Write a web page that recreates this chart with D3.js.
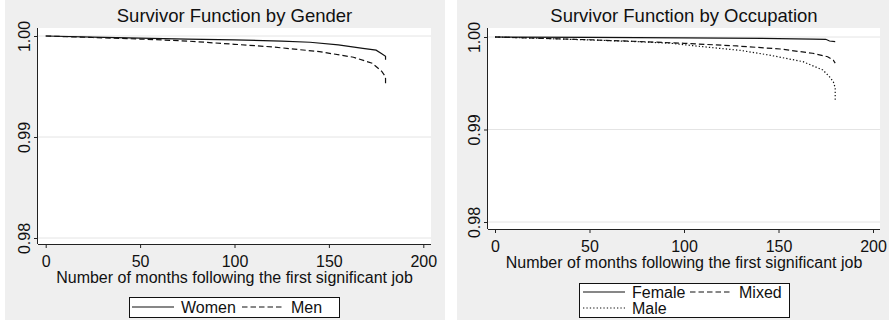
<!DOCTYPE html>
<html>
<head>
<meta charset="utf-8">
<script src="https://cdn.jsdelivr.net/npm/d3@7"></script>
<style>
  body { margin: 0; background: #ffffff; }
  svg { display: block; font-family: "Liberation Sans", Arial, sans-serif; }
</style>
</head>
<body>
<div id="chart"></div>
<script>
const FRAME_WIDTH = 889;
const FRAME_HEIGHT = 320;

// axis ticks shared by both panels
const X_TICKS = [0, 50, 100, 150, 200];
const Y_TICKS = [0.98, 0.99, 1.00];

// survivor estimates (months, survival)
const WOMEN_MONTHS = [0, 25, 50, 75, 100, 125, 140, 155, 168, 175, 178, 180, 180];
const WOMEN_SURV   = [1.0, 0.99988, 0.99978, 0.99970, 0.99962, 0.99950, 0.99938, 0.99912, 0.99878, 0.99860, 0.99825, 0.99800, 0.99765];

const MEN_MONTHS = [0, 25, 50, 75, 100, 120, 145, 163, 173, 178, 179.5, 180, 180];
const MEN_SURV   = [1.0, 0.99985, 0.99970, 0.99950, 0.99918, 0.99892, 0.99845, 0.99790, 0.99730, 0.99650, 0.99610, 0.99580, 0.99508];

const FEMALE_MONTHS = [0, 50, 100, 150, 168, 175, 177, 180];
const FEMALE_SURV   = [1.0, 0.99995, 0.99990, 0.99983, 0.99978, 0.99975, 0.99957, 0.99950];

const MIXED_MONTHS = [0, 25, 50, 75, 100, 128, 151, 168, 176, 179, 180];
const MIXED_SURV   = [1.0, 0.99985, 0.99970, 0.99952, 0.99932, 0.99903, 0.99870, 0.99824, 0.99787, 0.99750, 0.99718];

const MALE_MONTHS = [0, 25, 50, 75, 93, 110, 130, 145, 163, 173.5, 177, 179, 180, 180];
const MALE_SURV   = [1.0, 0.99985, 0.99968, 0.99950, 0.99932, 0.99895, 0.99855, 0.99805, 0.99733, 0.99643, 0.99570, 0.99517, 0.99450, 0.99322];

const GENDER_LABELS = ["Women", "Men"];
const OCCUPATION_LABELS = ["Female", "Mixed", "Male"];

const X_TITLE = "Number of months following the first significant job";

// line styles
const SOLID = null;
const DASHED = "5.5,3";
const DOTTED = "1.3,2.1";

const SVG = d3.select("#chart")
  .append("svg")
    .attr("width", FRAME_WIDTH)
    .attr("height", FRAME_HEIGHT);

const PANELS = [
  {
    title: "Survivor Function by Gender",
    bg: {x0: 5, x1: 445},
    plot: {left: 38, right: 431, top: 28, bottom: 244},
    xRange: [45.7, 423.3],
    yRange: [238, 36],
    yLabelX: 29.5,
    series: [
      {months: WOMEN_MONTHS, surv: WOMEN_SURV, label: GENDER_LABELS[0], dash: SOLID},
      {months: MEN_MONTHS, surv: MEN_SURV, label: GENDER_LABELS[1], dash: DASHED}
    ],
    legend: {x0: 129, x1: 339, y0: 297, y1: 317,
             rows: [[0, 1]], cols: [132, 242]}
  },
  {
    title: "Survivor Function by Occupation",
    bg: {x0: 457, x1: 889},
    plot: {left: 488, right: 880, top: 28, bottom: 229},
    xRange: [495, 873],
    yRange: [222, 37],
    yLabelX: 479.5,
    series: [
      {months: FEMALE_MONTHS, surv: FEMALE_SURV, label: OCCUPATION_LABELS[0], dash: SOLID},
      {months: MIXED_MONTHS, surv: MIXED_SURV, label: OCCUPATION_LABELS[1], dash: DASHED},
      {months: MALE_MONTHS, surv: MALE_SURV, label: OCCUPATION_LABELS[2], dash: DOTTED}
    ],
    legend: {x0: 579, x1: 789, y0: 283, y1: 317,
             rows: [[0, 1], [2]], cols: [583, 690]}
  }
];

PANELS.forEach(drawPanel);

function drawPanel(p) {
  const g = SVG.append("g");

  // panel background
  g.append("rect")
    .attr("x", p.bg.x0).attr("y", 0)
    .attr("width", p.bg.x1 - p.bg.x0).attr("height", FRAME_HEIGHT)
    .attr("fill", "#efefef");

  // plot region
  g.append("rect")
    .attr("x", p.plot.left).attr("y", p.plot.top)
    .attr("width", p.plot.right - p.plot.left)
    .attr("height", p.plot.bottom - p.plot.top)
    .attr("fill", "#ffffff");

  const X_SCALE = d3.scaleLinear().domain([0, 200]).range(p.xRange);
  const Y_SCALE = d3.scaleLinear().domain([0.98, 1.00]).range(p.yRange);

  // gridlines
  g.selectAll(".grid")
    .data(Y_TICKS)
    .enter()
    .append("line")
      .attr("x1", p.plot.left).attr("x2", p.plot.right)
      .attr("y1", (d) => Y_SCALE(d)).attr("y2", (d) => Y_SCALE(d))
      .attr("stroke", "#e4e4e4")
      .attr("stroke-width", 1);

  // x axis
  const xAxis = g.append("g")
    .attr("transform", "translate(0," + p.plot.bottom + ")")
    .call(d3.axisBottom(X_SCALE).tickValues(X_TICKS).tickSize(4).tickPadding(8));
  xAxis.select(".domain")
    .attr("d", "M" + p.plot.left + ",0.5H" + p.plot.right)
    .attr("stroke", "#222");
  xAxis.selectAll(".tick line").attr("stroke", "#222");
  xAxis.selectAll("text")
    .attr("font-size", "16px")
    .attr("fill", "#111")
    .attr("font-family", "Liberation Sans, Arial, sans-serif");

  // y axis
  const yAxis = g.append("g")
    .attr("transform", "translate(" + p.plot.left + ",0)")
    .call(d3.axisLeft(Y_SCALE).tickValues(Y_TICKS).tickSize(4).tickFormat(d3.format(".2f")));
  yAxis.select(".domain")
    .attr("d", "M-0.5," + p.plot.top + "V" + p.plot.bottom)
    .attr("stroke", "#222");
  yAxis.selectAll(".tick line").attr("stroke", "#222");
  yAxis.selectAll("text")
    .attr("x", 0).attr("y", 0).attr("dy", null)
    .attr("transform", "translate(" + (p.yLabelX - p.plot.left) + ",0) rotate(-90)")
    .attr("text-anchor", "middle")
    .attr("font-size", "16px")
    .attr("fill", "#111")
    .attr("font-family", "Liberation Sans, Arial, sans-serif");

  // title
  g.append("text")
    .attr("x", (p.plot.left + p.plot.right) / 2)
    .attr("y", 21.5)
    .attr("text-anchor", "middle")
    .attr("font-size", "18.5px")
    .attr("fill", "#111")
    .text(p.title);

  // x axis title
  g.append("text")
    .attr("x", (p.plot.left + p.plot.right) / 2)
    .attr("y", p.plot.bottom + 39)
    .attr("text-anchor", "middle")
    .attr("font-size", "16px")
    .attr("fill", "#111")
    .text(X_TITLE);

  // survivor curves
  const line = d3.line()
    .x((d) => X_SCALE(d[0]))
    .y((d) => Y_SCALE(d[1]));

  p.series.forEach((s) => {
    g.append("path")
      .datum(s.months.map((m, i) => [m, s.surv[i]]))
      .attr("d", line)
      .attr("fill", "none")
      .attr("stroke", "#111")
      .attr("stroke-width", 1.2)
      .attr("stroke-dasharray", s.dash);
  });

  // legend
  const L = p.legend;
  g.append("rect")
    .attr("x", L.x0 + 0.5).attr("y", L.y0 + 0.5)
    .attr("width", L.x1 - L.x0).attr("height", L.y1 - L.y0)
    .attr("fill", "#ffffff")
    .attr("stroke", "#111")
    .attr("stroke-width", 1);

  const rowH = (L.y1 - L.y0 - 2) / L.rows.length;
  L.rows.forEach((row, r) => {
    const cy = L.y0 + 1 + rowH * (r + 0.5);
    row.forEach((si, c) => {
      const s = p.series[si];
      const x = L.cols[c];
      g.append("line")
        .attr("x1", x).attr("x2", x + 42)
        .attr("y1", cy).attr("y2", cy)
        .attr("stroke", "#111")
        .attr("stroke-width", 1.2)
        .attr("stroke-dasharray", s.dash);
      g.append("text")
        .attr("x", x + 49)
        .attr("y", cy + 5.5)
        .attr("font-size", "16px")
        .attr("fill", "#111")
        .text(s.label);
    });
  });
}
</script>
</body>
</html>
